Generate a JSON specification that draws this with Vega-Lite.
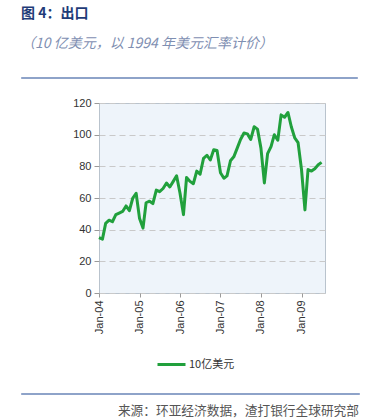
{
  "$schema": "https://vega.github.io/schema/vega-lite/v6.json",
  "padding": {"left": 20, "top": 6, "right": 10, "bottom": 0},
  "autosize": {"type": "pad"},
  "background": "white",
  "spacing": 17,
  "columns": 1,
  "align": "none",
  "resolve": {"legend": {"color": "independent"}},
  "config": {
    "font": "Liberation Sans",
    "view": {"stroke": null}
  },
  "concat": [
    {
      "width": 336,
      "height": 1,
      "data": {"values": []},
      "mark": {"type": "rule"},
      "encoding": {},
      "view": {"stroke": "#8ea3c9", "strokeWidth": 1, "fill": "#8ea3c9"},
      "title": {
        "text": "图 4：出口",
        "subtitle": "（10 亿美元，以 1994 年美元汇率计价）",
        "anchor": "start",
        "font": "Noto Sans CJK SC",
        "fontSize": 14,
        "fontWeight": "bold",
        "color": "#1f3c78",
        "subtitleFont": "Noto Sans CJK SC",
        "subtitleFontSize": 14,
        "subtitleFontStyle": "italic",
        "subtitleColor": "#7f8fb2",
        "subtitlePadding": 16,
        "offset": 26
      }
    },
    {
      "hconcat": [
        {
          "width": 37,
          "height": 190,
          "data": {"values": []},
          "mark": {"type": "rule"},
          "encoding": {},
          "view": {"stroke": null, "fill": null}
        },
        {
          "width": 226,
          "height": 190,
          "view": {"fill": "#eef4fa", "stroke": "#b9c3cd", "strokeWidth": 1},
          "data": {
            "values": [
              {"date": "2004-01-01", "value": 35, "series": "10亿美元"},
              {"date": "2004-02-01", "value": 34, "series": "10亿美元"},
              {"date": "2004-03-01", "value": 44, "series": "10亿美元"},
              {"date": "2004-04-01", "value": 46, "series": "10亿美元"},
              {"date": "2004-05-01", "value": 45, "series": "10亿美元"},
              {"date": "2004-06-01", "value": 49.5, "series": "10亿美元"},
              {"date": "2004-07-01", "value": 50.5, "series": "10亿美元"},
              {"date": "2004-08-01", "value": 51.5, "series": "10亿美元"},
              {"date": "2004-09-01", "value": 55, "series": "10亿美元"},
              {"date": "2004-10-01", "value": 52, "series": "10亿美元"},
              {"date": "2004-11-01", "value": 60, "series": "10亿美元"},
              {"date": "2004-12-01", "value": 63, "series": "10亿美元"},
              {"date": "2005-01-01", "value": 47, "series": "10亿美元"},
              {"date": "2005-02-01", "value": 41, "series": "10亿美元"},
              {"date": "2005-03-01", "value": 57, "series": "10亿美元"},
              {"date": "2005-04-01", "value": 58, "series": "10亿美元"},
              {"date": "2005-05-01", "value": 56.5, "series": "10亿美元"},
              {"date": "2005-06-01", "value": 65, "series": "10亿美元"},
              {"date": "2005-07-01", "value": 64, "series": "10亿美元"},
              {"date": "2005-08-01", "value": 66, "series": "10亿美元"},
              {"date": "2005-09-01", "value": 69.5, "series": "10亿美元"},
              {"date": "2005-10-01", "value": 67, "series": "10亿美元"},
              {"date": "2005-11-01", "value": 70.5, "series": "10亿美元"},
              {"date": "2005-12-01", "value": 74, "series": "10亿美元"},
              {"date": "2006-01-01", "value": 63, "series": "10亿美元"},
              {"date": "2006-02-01", "value": 49.5, "series": "10亿美元"},
              {"date": "2006-03-01", "value": 73, "series": "10亿美元"},
              {"date": "2006-04-01", "value": 70.5, "series": "10亿美元"},
              {"date": "2006-05-01", "value": 69, "series": "10亿美元"},
              {"date": "2006-06-01", "value": 77, "series": "10亿美元"},
              {"date": "2006-07-01", "value": 75, "series": "10亿美元"},
              {"date": "2006-08-01", "value": 85, "series": "10亿美元"},
              {"date": "2006-09-01", "value": 87, "series": "10亿美元"},
              {"date": "2006-10-01", "value": 84, "series": "10亿美元"},
              {"date": "2006-11-01", "value": 90.5, "series": "10亿美元"},
              {"date": "2006-12-01", "value": 90, "series": "10亿美元"},
              {"date": "2007-01-01", "value": 76, "series": "10亿美元"},
              {"date": "2007-02-01", "value": 72.5, "series": "10亿美元"},
              {"date": "2007-03-01", "value": 74, "series": "10亿美元"},
              {"date": "2007-04-01", "value": 83.5, "series": "10亿美元"},
              {"date": "2007-05-01", "value": 86, "series": "10亿美元"},
              {"date": "2007-06-01", "value": 91.5, "series": "10亿美元"},
              {"date": "2007-07-01", "value": 97, "series": "10亿美元"},
              {"date": "2007-08-01", "value": 101, "series": "10亿美元"},
              {"date": "2007-09-01", "value": 100.5, "series": "10亿美元"},
              {"date": "2007-10-01", "value": 97, "series": "10亿美元"},
              {"date": "2007-11-01", "value": 105, "series": "10亿美元"},
              {"date": "2007-12-01", "value": 103.5, "series": "10亿美元"},
              {"date": "2008-01-01", "value": 91.5, "series": "10亿美元"},
              {"date": "2008-02-01", "value": 69.5, "series": "10亿美元"},
              {"date": "2008-03-01", "value": 88, "series": "10亿美元"},
              {"date": "2008-04-01", "value": 92.5, "series": "10亿美元"},
              {"date": "2008-05-01", "value": 100, "series": "10亿美元"},
              {"date": "2008-06-01", "value": 96.5, "series": "10亿美元"},
              {"date": "2008-07-01", "value": 112.5, "series": "10亿美元"},
              {"date": "2008-08-01", "value": 111, "series": "10亿美元"},
              {"date": "2008-09-01", "value": 114, "series": "10亿美元"},
              {"date": "2008-10-01", "value": 105, "series": "10亿美元"},
              {"date": "2008-11-01", "value": 98, "series": "10亿美元"},
              {"date": "2008-12-01", "value": 95, "series": "10亿美元"},
              {"date": "2009-01-01", "value": 78, "series": "10亿美元"},
              {"date": "2009-02-01", "value": 52.5, "series": "10亿美元"},
              {"date": "2009-03-01", "value": 78, "series": "10亿美元"},
              {"date": "2009-04-01", "value": 77, "series": "10亿美元"},
              {"date": "2009-05-01", "value": 78.5, "series": "10亿美元"},
              {"date": "2009-06-01", "value": 81, "series": "10亿美元"},
              {"date": "2009-07-01", "value": 82.5, "series": "10亿美元"}
            ]
          },
          "mark": {"type": "line", "strokeWidth": 3, "strokeJoin": "round"},
          "encoding": {
            "x": {
              "field": "date",
              "type": "temporal",
              "scale": {
                "type": "utc",
                "domain": [
                  {"year": 2004, "month": 1, "date": 1, "utc": true},
                  {"year": 2009, "month": 8, "date": 1, "utc": true}
                ]
              },
              "axis": {
                "title": null,
                "format": "%b-%y",
                "labelAngle": 270,
                "tickCount": {"interval": "year", "step": 1},
                "grid": false,
                "domain": false,
                "ticks": true,
                "tickSize": 4,
                "tickColor": "#9a9a9a",
                "labelFontSize": 11,
                "labelColor": "#333333",
                "labelPadding": 3
              }
            },
            "y": {
              "field": "value",
              "type": "quantitative",
              "scale": {"domain": [0, 120]},
              "axis": {
                "title": null,
                "values": [0, 20, 40, 60, 80, 100, 120],
                "grid": true,
                "gridDash": [6, 4],
                "gridColor": "#c9c9c9",
                "domain": false,
                "tickSize": 5,
                "tickColor": "#9a9a9a",
                "labelFontSize": 11,
                "labelColor": "#333333",
                "labelPadding": 3,
                "minExtent": 40
              }
            },
            "color": {
              "field": "series",
              "type": "nominal",
              "scale": {"range": ["#21a03c"]},
              "legend": {
                "orient": "none",
                "legendX": 54,
                "legendY": 243,
                "padding": 3,
                "title": null,
                "symbolType": "stroke",
                "symbolSize": 784,
                "symbolStrokeWidth": 3,
                "labelFont": "Noto Sans CJK SC",
                "labelFontSize": 11,
                "labelColor": "#333333",
                "labelOffset": 2
              }
            }
          }
        }
      ],
      "spacing": 0,
      "resolve": {"legend": {"color": "independent"}}
    },
    {
      "width": 338,
      "height": 1,
      "data": {"values": []},
      "mark": {"type": "rule"},
      "encoding": {},
      "view": {"stroke": "#8ea3c9", "strokeWidth": 1, "fill": "#8ea3c9"},
      "title": {
        "text": "来源：环亚经济数据，渣打银行全球研究部",
        "orient": "bottom",
        "anchor": "end",
        "font": "Noto Sans CJK SC",
        "fontSize": 12.7,
        "fontWeight": "normal",
        "color": "#555555",
        "offset": 11
      }
    }
  ]
}
